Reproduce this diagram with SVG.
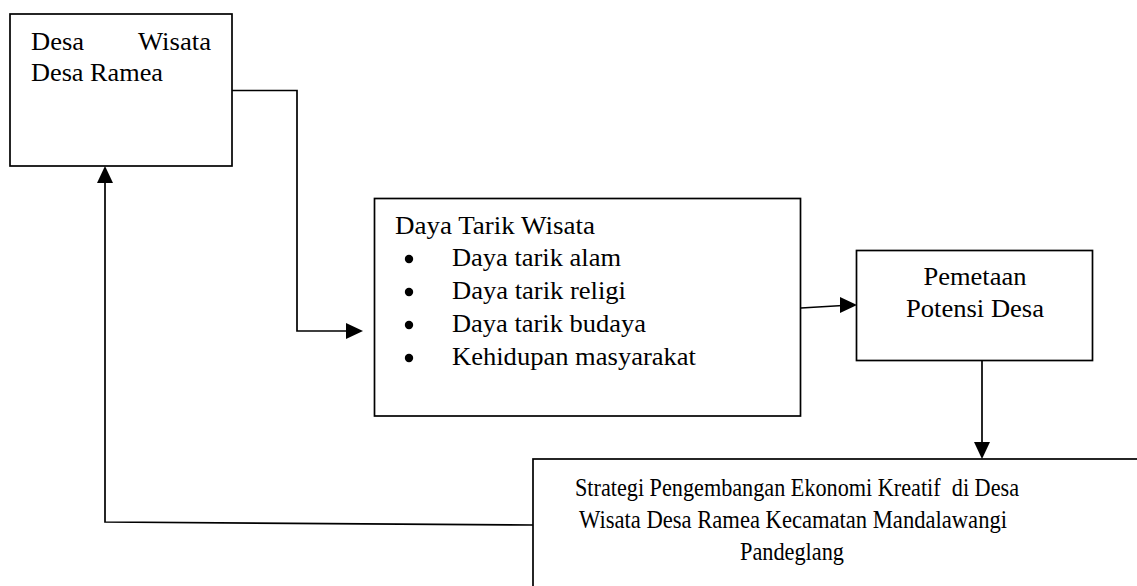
<svg xmlns="http://www.w3.org/2000/svg" width="1137" height="586" viewBox="0 0 1137 586">
<style>
.box{fill:#fff;stroke:#000;stroke-width:1.7}
.ln{fill:none;stroke:#000;stroke-width:1.7}
.t{font-family:'Liberation Serif','Times New Roman',Times,serif;font-size:25px;fill:#000}
.t4{font-family:'Liberation Serif','Times New Roman',Times,serif;font-size:24.5px;fill:#000}
.ah{fill:#000;stroke:none}
</style>
<rect x="0" y="0" width="1137" height="586" fill="#fff"/>
<g id="connectors">
  <polyline class="ln" points="232,90.5 297,90.5 297,331 348,331"/>
  <polygon class="ah" points="363,331 346,323 346,339"/>
  <line class="ln" x1="801" y1="308" x2="843" y2="305.5"/>
  <polygon class="ah" points="857,305 840,297 840,313"/>
  <line class="ln" x1="982" y1="351" x2="982" y2="444"/>
  <polygon class="ah" points="982,459 974,442 990,442"/>
  <polyline class="ln" points="533,525 105,522 105,181"/>
  <polygon class="ah" points="105,166 97,183 113,183"/>
</g>
<g id="node-desa-wisata">
  <rect class="box" x="10" y="14" width="222" height="152"/>
  <text class="t" x="31" y="50" textLength="53" lengthAdjust="spacingAndGlyphs">Desa</text>
  <text class="t" x="211" y="50" text-anchor="end" textLength="73" lengthAdjust="spacingAndGlyphs">Wisata</text>
  <text class="t" x="31" y="81" textLength="132" lengthAdjust="spacingAndGlyphs">Desa Ramea</text>
</g>
<g id="node-daya-tarik">
  <rect class="box" x="374.5" y="198.5" width="426" height="217.5"/>
  <text class="t" x="395" y="234" textLength="200" lengthAdjust="spacingAndGlyphs">Daya Tarik Wisata</text>
  <circle cx="409" cy="259" r="4.2"/>
  <text class="t" x="452" y="266" textLength="169" lengthAdjust="spacingAndGlyphs">Daya tarik alam</text>
  <circle cx="409" cy="292" r="4.2"/>
  <text class="t" x="452" y="299" textLength="174" lengthAdjust="spacingAndGlyphs">Daya tarik religi</text>
  <circle cx="409" cy="325" r="4.2"/>
  <text class="t" x="452" y="332" textLength="194" lengthAdjust="spacingAndGlyphs">Daya tarik budaya</text>
  <circle cx="409" cy="358" r="4.2"/>
  <text class="t" x="452" y="365" textLength="244" lengthAdjust="spacingAndGlyphs">Kehidupan masyarakat</text>
</g>
<g id="node-pemetaan">
  <rect class="box" x="856.5" y="250.5" width="236" height="110"/>
  <text class="t" x="975" y="285" text-anchor="middle" textLength="103" lengthAdjust="spacingAndGlyphs">Pemetaan</text>
  <text class="t" x="975" y="317" text-anchor="middle" textLength="138" lengthAdjust="spacingAndGlyphs">Potensi Desa</text>
</g>
<g id="node-strategi">
  <rect class="box" x="533" y="459" width="640" height="160"/>
  <text class="t4" x="797" y="496" text-anchor="middle" xml:space="preserve" textLength="444" lengthAdjust="spacingAndGlyphs">Strategi Pengembangan Ekonomi Kreatif  di Desa</text>
  <text class="t4" x="793" y="528" text-anchor="middle" textLength="428" lengthAdjust="spacingAndGlyphs">Wisata Desa Ramea Kecamatan Mandalawangi</text>
  <text class="t4" x="792" y="560" text-anchor="middle" textLength="104" lengthAdjust="spacingAndGlyphs">Pandeglang</text>
</g>
</svg>
